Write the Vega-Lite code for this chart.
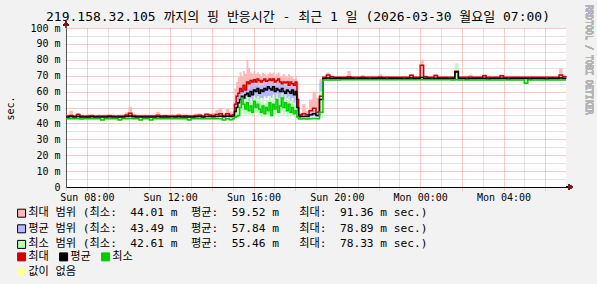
{
"$schema": "https://vega.github.io/schema/vega-lite/v6.json",
"width": 500, "height": 159,
"autosize": {"type": "none"},
"padding": {"left": 66, "top": 28, "right": 31, "bottom": 97},
"background": "#f2f2f2",
"view": {"fill": "#ffffff", "stroke": null},
"title": {"text": "219.158.32.105 까지의 핑 반응시간 - 최근 1 일 (2026-03-30 월요일 07:00)", "font": "DejaVu Sans Mono, Noto Sans CJK KR", "fontSize": 13, "fontWeight": "normal", "color": "#000000", "anchor": "middle", "frame": "group", "dx": -18, "dy": 19, "offset": 0},
"data": {"values": [
{"t":"2026-03-29T07:00","xl":44.2,"xh":45.4,"x":44.6,"al":43.7,"ah":44.7,"a":44.1,"nl":42.6,"nh":43.4,"n":43.0},
{"t":"2026-03-29T07:10","xl":44.3,"xh":48.0,"x":45.0,"al":43.8,"ah":45.0,"a":44.3,"nl":42.6,"nh":43.5,"n":43.0},
{"t":"2026-03-29T07:20","xl":44.1,"xh":45.2,"x":44.5,"al":43.7,"ah":44.6,"a":44.0,"nl":42.5,"nh":43.3,"n":42.9},
{"t":"2026-03-29T07:30","xl":44.6,"xh":46.5,"x":45.6,"al":43.9,"ah":45.0,"a":44.4,"nl":42.6,"nh":43.5,"n":43.0},
{"t":"2026-03-29T07:40","xl":44.2,"xh":45.5,"x":44.7,"al":43.7,"ah":44.7,"a":44.1,"nl":42.5,"nh":43.3,"n":42.8},
{"t":"2026-03-29T07:50","xl":44.1,"xh":45.1,"x":44.5,"al":43.6,"ah":44.6,"a":44.0,"nl":42.6,"nh":43.4,"n":43.0},
{"t":"2026-03-29T08:00","xl":44.2,"xh":45.6,"x":44.6,"al":43.7,"ah":44.7,"a":44.1,"nl":42.6,"nh":43.4,"n":43.0},
{"t":"2026-03-29T08:10","xl":44.3,"xh":45.9,"x":44.8,"al":43.8,"ah":44.8,"a":44.2,"nl":42.6,"nh":43.4,"n":43.0},
{"t":"2026-03-29T08:20","xl":44.1,"xh":45.2,"x":44.5,"al":43.7,"ah":44.6,"a":44.0,"nl":42.6,"nh":43.3,"n":42.9},
{"t":"2026-03-29T08:30","xl":44.2,"xh":45.4,"x":44.6,"al":43.7,"ah":44.7,"a":44.1,"nl":42.6,"nh":43.4,"n":43.0},
{"t":"2026-03-29T08:40","xl":44.2,"xh":45.3,"x":44.6,"al":43.6,"ah":44.6,"a":44.0,"nl":41.7,"nh":43.0,"n":42.1},
{"t":"2026-03-29T08:50","xl":44.2,"xh":45.4,"x":44.6,"al":43.7,"ah":44.7,"a":44.1,"nl":42.6,"nh":43.4,"n":43.0},
{"t":"2026-03-29T09:00","xl":44.3,"xh":45.8,"x":44.8,"al":43.8,"ah":44.8,"a":44.2,"nl":42.6,"nh":43.4,"n":43.0},
{"t":"2026-03-29T09:10","xl":44.2,"xh":45.4,"x":44.6,"al":43.7,"ah":44.7,"a":44.1,"nl":42.6,"nh":43.4,"n":43.0},
{"t":"2026-03-29T09:20","xl":44.1,"xh":45.2,"x":44.5,"al":43.6,"ah":44.6,"a":44.0,"nl":42.6,"nh":43.3,"n":42.9},
{"t":"2026-03-29T09:30","xl":44.2,"xh":45.4,"x":44.6,"al":43.7,"ah":44.6,"a":44.0,"nl":41.8,"nh":43.0,"n":42.2},
{"t":"2026-03-29T09:40","xl":44.2,"xh":45.4,"x":44.6,"al":43.7,"ah":44.7,"a":44.1,"nl":42.6,"nh":43.4,"n":43.0},
{"t":"2026-03-29T09:50","xl":44.4,"xh":47.0,"x":45.3,"al":43.8,"ah":45.0,"a":44.3,"nl":42.6,"nh":43.4,"n":43.0},
{"t":"2026-03-29T10:00","xl":44.8,"xh":50.5,"x":46.4,"al":44.0,"ah":45.5,"a":44.6,"nl":42.7,"nh":43.6,"n":43.1},
{"t":"2026-03-29T10:10","xl":44.3,"xh":45.8,"x":44.9,"al":43.8,"ah":44.8,"a":44.2,"nl":42.6,"nh":43.4,"n":43.0},
{"t":"2026-03-29T10:20","xl":44.2,"xh":45.4,"x":44.6,"al":43.7,"ah":44.7,"a":44.1,"nl":42.6,"nh":43.4,"n":43.0},
{"t":"2026-03-29T10:30","xl":44.2,"xh":45.3,"x":44.6,"al":43.6,"ah":44.6,"a":44.0,"nl":41.8,"nh":43.0,"n":42.2},
{"t":"2026-03-29T10:40","xl":44.2,"xh":45.4,"x":44.6,"al":43.7,"ah":44.7,"a":44.1,"nl":42.6,"nh":43.4,"n":43.0},
{"t":"2026-03-29T10:50","xl":44.3,"xh":45.5,"x":44.7,"al":43.7,"ah":44.7,"a":44.1,"nl":42.6,"nh":43.4,"n":43.0},
{"t":"2026-03-29T11:00","xl":44.2,"xh":45.4,"x":44.6,"al":43.7,"ah":44.6,"a":44.0,"nl":41.7,"nh":43.0,"n":42.1},
{"t":"2026-03-29T11:10","xl":44.2,"xh":45.4,"x":44.6,"al":43.7,"ah":44.7,"a":44.1,"nl":42.6,"nh":43.4,"n":43.0},
{"t":"2026-03-29T11:20","xl":44.4,"xh":47.4,"x":45.2,"al":43.8,"ah":44.9,"a":44.2,"nl":42.6,"nh":43.4,"n":43.0},
{"t":"2026-03-29T11:30","xl":44.2,"xh":45.4,"x":44.6,"al":43.7,"ah":44.7,"a":44.1,"nl":42.6,"nh":43.4,"n":43.0},
{"t":"2026-03-29T11:40","xl":44.3,"xh":45.6,"x":44.8,"al":43.7,"ah":44.7,"a":44.1,"nl":42.6,"nh":43.4,"n":43.0},
{"t":"2026-03-29T11:50","xl":44.2,"xh":45.4,"x":44.6,"al":43.7,"ah":44.7,"a":44.1,"nl":42.6,"nh":43.4,"n":43.0},
{"t":"2026-03-29T12:00","xl":44.3,"xh":45.9,"x":44.7,"al":43.8,"ah":44.8,"a":44.2,"nl":42.6,"nh":43.4,"n":43.0},
{"t":"2026-03-29T12:10","xl":44.2,"xh":45.4,"x":44.6,"al":43.7,"ah":44.7,"a":44.1,"nl":42.6,"nh":43.4,"n":43.0},
{"t":"2026-03-29T12:20","xl":44.3,"xh":46.2,"x":44.9,"al":43.8,"ah":44.8,"a":44.2,"nl":42.6,"nh":43.4,"n":43.0},
{"t":"2026-03-29T12:30","xl":44.2,"xh":45.4,"x":44.6,"al":43.7,"ah":44.7,"a":44.1,"nl":42.6,"nh":43.4,"n":43.0},
{"t":"2026-03-29T12:40","xl":44.3,"xh":45.7,"x":44.8,"al":43.7,"ah":44.7,"a":44.1,"nl":42.6,"nh":43.4,"n":43.0},
{"t":"2026-03-29T12:50","xl":44.2,"xh":45.4,"x":44.6,"al":43.7,"ah":44.6,"a":44.0,"nl":41.8,"nh":43.0,"n":42.2},
{"t":"2026-03-29T13:00","xl":44.2,"xh":45.4,"x":44.6,"al":43.7,"ah":44.7,"a":44.1,"nl":42.6,"nh":43.4,"n":43.0},
{"t":"2026-03-29T13:10","xl":44.3,"xh":46.0,"x":44.9,"al":43.8,"ah":44.8,"a":44.2,"nl":42.6,"nh":43.4,"n":43.0},
{"t":"2026-03-29T13:20","xl":44.4,"xh":46.4,"x":45.1,"al":43.8,"ah":44.9,"a":44.3,"nl":42.6,"nh":43.4,"n":43.0},
{"t":"2026-03-29T13:30","xl":44.2,"xh":45.5,"x":44.7,"al":43.7,"ah":44.7,"a":44.1,"nl":42.6,"nh":43.4,"n":43.0},
{"t":"2026-03-29T13:40","xl":44.5,"xh":46.3,"x":45.8,"al":43.9,"ah":45.0,"a":44.4,"nl":42.6,"nh":43.4,"n":43.0},
{"t":"2026-03-29T13:50","xl":44.4,"xh":46.3,"x":45.3,"al":43.8,"ah":44.9,"a":44.3,"nl":42.6,"nh":43.4,"n":43.0},
{"t":"2026-03-29T14:00","xl":44.3,"xh":46.5,"x":44.9,"al":43.8,"ah":44.8,"a":44.2,"nl":42.6,"nh":43.4,"n":43.0},
{"t":"2026-03-29T14:10","xl":44.5,"xh":48.5,"x":45.6,"al":43.9,"ah":45.0,"a":44.4,"nl":42.6,"nh":43.4,"n":43.0},
{"t":"2026-03-29T14:20","xl":44.6,"xh":49.6,"x":46.0,"al":44.0,"ah":45.2,"a":44.5,"nl":42.6,"nh":43.5,"n":43.0},
{"t":"2026-03-29T14:30","xl":44.3,"xh":46.0,"x":45.0,"al":43.8,"ah":44.8,"a":44.2,"nl":41.8,"nh":43.0,"n":42.2},
{"t":"2026-03-29T14:40","xl":44.6,"xh":49.0,"x":46.0,"al":44.0,"ah":45.2,"a":44.5,"nl":42.6,"nh":43.5,"n":43.0},
{"t":"2026-03-29T14:50","xl":44.4,"xh":47.5,"x":45.2,"al":43.8,"ah":44.9,"a":44.3,"nl":41.9,"nh":43.2,"n":42.3},
{"t":"2026-03-29T15:00","xl":44.5,"xh":47.0,"x":45.5,"al":43.9,"ah":45.0,"a":44.3,"nl":42.6,"nh":43.5,"n":43.0},
{"t":"2026-03-29T15:05","xl":46,"xh":62,"x":52,"al":45,"ah":52,"a":47.5,"nl":43,"nh":46,"n":44},
{"t":"2026-03-29T15:10","xl":50,"xh":66,"x":57,"al":47,"ah":56,"a":50,"nl":43,"nh":50,"n":44.5},
{"t":"2026-03-29T15:15","xl":52,"xh":69,"x":59,"al":48,"ah":58,"a":53,"nl":43.5,"nh":52,"n":45},
{"t":"2026-03-29T15:20","xl":55,"xh":72,"x":62,"al":50,"ah":60,"a":55,"nl":45,"nh":55,"n":50},
{"t":"2026-03-29T15:25","xl":54,"xh":70,"x":60,"al":52,"ah":61,"a":57,"nl":48,"nh":58,"n":56},
{"t":"2026-03-29T15:30","xl":57,"xh":73,"x":64,"al":51,"ah":62,"a":56,"nl":46,"nh":57,"n":52},
{"t":"2026-03-29T15:35","xl":56,"xh":71,"x":61,"al":53,"ah":62,"a":58,"nl":45,"nh":55,"n":49},
{"t":"2026-03-29T15:40","xl":58,"xh":80,"x":66,"al":54,"ah":64,"a":59,"nl":47,"nh":58,"n":53},
{"t":"2026-03-29T15:45","xl":58,"xh":75,"x":65,"al":53,"ah":62,"a":57,"nl":45,"nh":54,"n":48},
{"t":"2026-03-29T15:50","xl":60,"xh":72,"x":67,"al":55,"ah":64,"a":60,"nl":46,"nh":56,"n":51},
{"t":"2026-03-29T15:55","xl":59,"xh":71,"x":66,"al":54,"ah":63,"a":58,"nl":44,"nh":53,"n":47},
{"t":"2026-03-29T16:00","xl":61,"xh":73,"x":67.5,"al":56,"ah":65,"a":61,"nl":47,"nh":58,"n":54},
{"t":"2026-03-29T16:05","xl":60,"xh":71,"x":66,"al":55,"ah":64,"a":60,"nl":46,"nh":56,"n":50},
{"t":"2026-03-29T16:10","xl":61,"xh":72,"x":68,"al":57,"ah":65,"a":62,"nl":47,"nh":57,"n":52},
{"t":"2026-03-29T16:15","xl":60,"xh":71,"x":67,"al":55,"ah":63,"a":59,"nl":45,"nh":55,"n":49},
{"t":"2026-03-29T16:20","xl":60,"xh":70,"x":66,"al":56,"ah":64,"a":61,"nl":44,"nh":53,"n":47},
{"t":"2026-03-29T16:25","xl":61,"xh":72,"x":67,"al":55,"ah":64,"a":60,"nl":46,"nh":56,"n":51},
{"t":"2026-03-29T16:30","xl":61,"xh":71,"x":68,"al":57,"ah":65,"a":62,"nl":44,"nh":52,"n":46},
{"t":"2026-03-29T16:35","xl":60,"xh":70,"x":66.5,"al":56,"ah":65,"a":61,"nl":45,"nh":55,"n":50},
{"t":"2026-03-29T16:40","xl":61,"xh":71,"x":67,"al":57,"ah":66,"a":63,"nl":44,"nh":54,"n":48},
{"t":"2026-03-29T16:45","xl":62,"xh":72,"x":68,"al":57,"ah":65,"a":62,"nl":47,"nh":57,"n":53},
{"t":"2026-03-29T16:50","xl":61,"xh":71,"x":67,"al":56,"ah":64,"a":61,"nl":44,"nh":51,"n":45},
{"t":"2026-03-29T16:55","xl":61,"xh":72,"x":68,"al":58,"ah":66,"a":63,"nl":46,"nh":57,"n":52},
{"t":"2026-03-29T17:00","xl":60,"xh":70,"x":66,"al":55,"ah":64,"a":60,"nl":45,"nh":55,"n":49},
{"t":"2026-03-29T17:05","xl":61,"xh":71,"x":67,"al":57,"ah":65,"a":62,"nl":48,"nh":59,"n":55},
{"t":"2026-03-29T17:10","xl":62,"xh":72,"x":68,"al":56,"ah":65,"a":61,"nl":44,"nh":53,"n":47},
{"t":"2026-03-29T17:15","xl":60,"xh":70,"x":66,"al":55,"ah":64,"a":60,"nl":46,"nh":56,"n":51},
{"t":"2026-03-29T17:20","xl":59,"xh":70,"x":65,"al":56,"ah":65,"a":62,"nl":48,"nh":59,"n":56},
{"t":"2026-03-29T17:25","xl":60,"xh":71,"x":66,"al":55,"ah":64,"a":60,"nl":45,"nh":55,"n":50},
{"t":"2026-03-29T17:30","xl":59,"xh":70,"x":65.5,"al":54,"ah":63,"a":59,"nl":47,"nh":58,"n":53},
{"t":"2026-03-29T17:35","xl":60,"xh":69,"x":66,"al":56,"ah":64,"a":61,"nl":44,"nh":54,"n":48},
{"t":"2026-03-29T17:40","xl":58,"xh":71,"x":64,"al":55,"ah":63,"a":60,"nl":46,"nh":57,"n":52},
{"t":"2026-03-29T17:45","xl":59,"xh":70,"x":66,"al":54,"ah":63,"a":59,"nl":44,"nh":53,"n":47},
{"t":"2026-03-29T17:50","xl":59,"xh":69,"x":65,"al":56,"ah":64,"a":61,"nl":45,"nh":55,"n":50},
{"t":"2026-03-29T17:55","xl":58,"xh":68,"x":64,"al":53,"ah":62,"a":58,"nl":44,"nh":52,"n":46},
{"t":"2026-03-29T18:00","xl":59,"xh":70,"x":66,"al":55,"ah":63,"a":60,"nl":44,"nh":53,"n":48},
{"t":"2026-03-29T18:05","xl":47,"xh":66,"x":55,"al":45,"ah":58,"a":50,"nl":43,"nh":47,"n":44},
{"t":"2026-03-29T18:10","xl":44.5,"xh":47,"x":45.5,"al":43.8,"ah":45,"a":44.2,"nl":42.5,"nh":43.3,"n":42.8},
{"t":"2026-03-29T18:15","xl":44.5,"xh":46.5,"x":45.3,"al":43.8,"ah":45,"a":44.3,"nl":42.5,"nh":43.3,"n":42.8},
{"t":"2026-03-29T18:20","xl":44.6,"xh":52,"x":46,"al":43.9,"ah":45.5,"a":44.4,"nl":42.5,"nh":43.4,"n":42.9},
{"t":"2026-03-29T18:30","xl":44.5,"xh":48,"x":45.5,"al":43.8,"ah":45.2,"a":44.3,"nl":42.5,"nh":43.3,"n":42.8},
{"t":"2026-03-29T18:40","xl":45,"xh":55,"x":48,"al":44.2,"ah":47,"a":45.5,"nl":42.6,"nh":43.6,"n":43.0},
{"t":"2026-03-29T18:50","xl":45.5,"xh":60,"x":49.5,"al":44.5,"ah":48,"a":46,"nl":42.6,"nh":43.8,"n":43.1},
{"t":"2026-03-29T19:00","xl":45,"xh":56,"x":47,"al":44,"ah":46.5,"a":45,"nl":42.6,"nh":43.5,"n":43.0},
{"t":"2026-03-29T19:10","xl":47,"xh":68,"x":57,"al":46,"ah":66,"a":55,"nl":43.5,"nh":60,"n":47},
{"t":"2026-03-29T19:20","xl":68.6,"xh":70.2,"x":69.1,"al":67.9,"ah":69.0,"a":68.3,"nl":66.9,"nh":67.7,"n":67.3},
{"t":"2026-03-29T19:30","xl":68.8,"xh":72.0,"x":70.4,"al":68.0,"ah":69.5,"a":68.6,"nl":67.0,"nh":67.7,"n":67.3},
{"t":"2026-03-29T19:40","xl":68.6,"xh":70.2,"x":69.4,"al":67.9,"ah":68.9,"a":68.3,"nl":66.9,"nh":67.7,"n":67.3},
{"t":"2026-03-29T19:50","xl":68.6,"xh":69.6,"x":69.0,"al":67.9,"ah":68.8,"a":68.2,"nl":67.0,"nh":67.6,"n":67.3},
{"t":"2026-03-29T20:00","xl":68.6,"xh":69.6,"x":69.0,"al":67.9,"ah":68.8,"a":68.4,"nl":67.0,"nh":67.6,"n":67.3},
{"t":"2026-03-29T20:10","xl":68.6,"xh":69.6,"x":69.0,"al":67.9,"ah":68.8,"a":68.2,"nl":67.1,"nh":67.8,"n":67.5},
{"t":"2026-03-29T20:20","xl":68.6,"xh":69.7,"x":69.1,"al":67.9,"ah":68.8,"a":68.3,"nl":67.1,"nh":67.8,"n":67.5},
{"t":"2026-03-29T20:30","xl":68.7,"xh":73.0,"x":69.3,"al":67.9,"ah":69.0,"a":68.4,"nl":67.1,"nh":67.8,"n":67.5},
{"t":"2026-03-29T20:40","xl":68.6,"xh":69.6,"x":69.0,"al":67.9,"ah":68.8,"a":68.2,"nl":67.1,"nh":67.8,"n":67.5},
{"t":"2026-03-29T20:50","xl":68.6,"xh":69.6,"x":69.0,"al":67.9,"ah":68.8,"a":68.0,"nl":67.1,"nh":67.8,"n":67.5},
{"t":"2026-03-29T21:00","xl":68.6,"xh":69.7,"x":69.1,"al":67.9,"ah":68.8,"a":68.3,"nl":67.1,"nh":67.8,"n":67.5},
{"t":"2026-03-29T21:10","xl":68.7,"xh":70.5,"x":69.2,"al":67.9,"ah":68.9,"a":68.4,"nl":67.1,"nh":67.8,"n":67.5},
{"t":"2026-03-29T21:20","xl":68.6,"xh":69.6,"x":69.0,"al":67.9,"ah":68.8,"a":68.2,"nl":67.1,"nh":67.8,"n":67.5},
{"t":"2026-03-29T21:30","xl":68.6,"xh":69.6,"x":69.0,"al":67.9,"ah":68.8,"a":68.0,"nl":67.1,"nh":67.8,"n":67.5},
{"t":"2026-03-29T21:40","xl":68.6,"xh":69.7,"x":69.1,"al":67.9,"ah":68.8,"a":68.3,"nl":67.1,"nh":67.8,"n":67.5},
{"t":"2026-03-29T21:50","xl":68.6,"xh":69.6,"x":69.0,"al":67.9,"ah":68.8,"a":68.2,"nl":67.1,"nh":67.8,"n":67.5},
{"t":"2026-03-29T22:00","xl":68.7,"xh":71.0,"x":69.2,"al":67.9,"ah":68.9,"a":68.4,"nl":67.1,"nh":67.8,"n":67.5},
{"t":"2026-03-29T22:10","xl":68.6,"xh":69.6,"x":69.0,"al":67.9,"ah":68.8,"a":68.2,"nl":67.1,"nh":67.8,"n":67.5},
{"t":"2026-03-29T22:20","xl":68.6,"xh":69.6,"x":69.0,"al":67.9,"ah":68.8,"a":68.0,"nl":67.1,"nh":67.8,"n":67.5},
{"t":"2026-03-29T22:30","xl":68.6,"xh":69.7,"x":69.1,"al":67.9,"ah":68.8,"a":68.3,"nl":67.1,"nh":67.8,"n":67.5},
{"t":"2026-03-29T22:40","xl":68.6,"xh":69.6,"x":69.0,"al":67.9,"ah":68.8,"a":68.2,"nl":67.1,"nh":67.8,"n":67.5},
{"t":"2026-03-29T22:50","xl":68.6,"xh":69.6,"x":69.0,"al":67.9,"ah":68.8,"a":68.2,"nl":67.1,"nh":67.8,"n":67.5},
{"t":"2026-03-29T23:00","xl":68.6,"xh":69.7,"x":69.1,"al":67.9,"ah":68.8,"a":68.3,"nl":67.1,"nh":67.8,"n":67.5},
{"t":"2026-03-29T23:10","xl":68.6,"xh":69.6,"x":69.0,"al":67.9,"ah":68.8,"a":68.0,"nl":67.1,"nh":67.8,"n":67.5},
{"t":"2026-03-29T23:20","xl":68.6,"xh":69.6,"x":69.0,"al":67.9,"ah":68.8,"a":68.2,"nl":67.1,"nh":67.8,"n":67.5},
{"t":"2026-03-29T23:30","xl":68.8,"xh":71.0,"x":70.3,"al":68.0,"ah":69.2,"a":68.5,"nl":67.1,"nh":67.8,"n":67.5},
{"t":"2026-03-29T23:40","xl":68.6,"xh":69.6,"x":69.0,"al":67.9,"ah":68.8,"a":68.2,"nl":67.1,"nh":67.8,"n":67.5},
{"t":"2026-03-29T23:50","xl":68.6,"xh":69.7,"x":69.1,"al":67.9,"ah":68.8,"a":68.3,"nl":67.1,"nh":67.8,"n":67.5},
{"t":"2026-03-30T00:00","xl":69.0,"xh":80.0,"x":76.5,"al":68.2,"ah":70.0,"a":68.8,"nl":67.1,"nh":67.9,"n":67.5},
{"t":"2026-03-30T00:10","xl":68.7,"xh":70.2,"x":69.3,"al":67.9,"ah":68.9,"a":68.3,"nl":67.1,"nh":67.8,"n":67.5},
{"t":"2026-03-30T00:20","xl":68.6,"xh":69.6,"x":69.0,"al":67.9,"ah":68.8,"a":68.2,"nl":67.1,"nh":67.8,"n":67.5},
{"t":"2026-03-30T00:30","xl":68.6,"xh":69.6,"x":69.0,"al":67.9,"ah":68.8,"a":68.0,"nl":67.1,"nh":67.8,"n":67.5},
{"t":"2026-03-30T00:40","xl":68.8,"xh":71.0,"x":70.2,"al":68.0,"ah":69.0,"a":68.4,"nl":67.1,"nh":67.8,"n":67.5},
{"t":"2026-03-30T00:50","xl":68.6,"xh":69.6,"x":69.0,"al":67.9,"ah":68.8,"a":68.2,"nl":67.1,"nh":67.8,"n":67.5},
{"t":"2026-03-30T01:00","xl":68.6,"xh":69.7,"x":69.1,"al":67.9,"ah":68.8,"a":68.3,"nl":67.1,"nh":67.8,"n":67.5},
{"t":"2026-03-30T01:10","xl":68.6,"xh":69.6,"x":69.0,"al":67.9,"ah":68.8,"a":68.2,"nl":67.1,"nh":67.8,"n":67.5},
{"t":"2026-03-30T01:20","xl":68.6,"xh":69.6,"x":69.0,"al":67.9,"ah":68.8,"a":68.0,"nl":67.1,"nh":67.8,"n":67.5},
{"t":"2026-03-30T01:30","xl":68.6,"xh":69.6,"x":69.0,"al":67.9,"ah":68.8,"a":68.2,"nl":67.0,"nh":67.6,"n":67.3},
{"t":"2026-03-30T01:40","xl":69.0,"xh":74.0,"x":72.8,"al":68.2,"ah":77.5,"a":72.3,"nl":67.0,"nh":77.5,"n":67.5},
{"t":"2026-03-30T01:50","xl":68.6,"xh":69.6,"x":69.0,"al":67.9,"ah":68.8,"a":68.2,"nl":67.0,"nh":67.6,"n":67.3},
{"t":"2026-03-30T02:00","xl":68.6,"xh":69.7,"x":69.1,"al":67.9,"ah":68.8,"a":68.3,"nl":67.0,"nh":67.6,"n":67.3},
{"t":"2026-03-30T02:10","xl":68.6,"xh":69.6,"x":69.0,"al":67.9,"ah":68.8,"a":68.0,"nl":67.0,"nh":67.6,"n":67.3},
{"t":"2026-03-30T02:20","xl":68.7,"xh":70.8,"x":69.2,"al":67.9,"ah":68.9,"a":68.3,"nl":67.0,"nh":67.6,"n":67.3},
{"t":"2026-03-30T02:30","xl":68.6,"xh":69.6,"x":69.0,"al":67.9,"ah":68.8,"a":68.2,"nl":67.0,"nh":67.6,"n":67.3},
{"t":"2026-03-30T02:40","xl":68.6,"xh":69.6,"x":69.0,"al":67.9,"ah":68.8,"a":68.2,"nl":67.0,"nh":67.6,"n":67.3},
{"t":"2026-03-30T02:50","xl":68.6,"xh":69.7,"x":69.1,"al":67.9,"ah":68.8,"a":68.3,"nl":67.0,"nh":67.6,"n":67.3},
{"t":"2026-03-30T03:00","xl":68.8,"xh":71.0,"x":70.0,"al":68.0,"ah":69.0,"a":68.4,"nl":67.0,"nh":67.6,"n":67.3},
{"t":"2026-03-30T03:10","xl":68.6,"xh":69.6,"x":69.0,"al":67.9,"ah":68.8,"a":68.0,"nl":67.0,"nh":67.6,"n":67.3},
{"t":"2026-03-30T03:20","xl":68.6,"xh":69.6,"x":69.0,"al":67.9,"ah":68.8,"a":68.2,"nl":67.0,"nh":67.6,"n":67.3},
{"t":"2026-03-30T03:30","xl":68.6,"xh":69.7,"x":69.1,"al":67.9,"ah":68.8,"a":68.3,"nl":67.0,"nh":67.6,"n":67.3},
{"t":"2026-03-30T03:40","xl":68.6,"xh":69.6,"x":69.0,"al":67.9,"ah":68.8,"a":68.2,"nl":67.0,"nh":67.6,"n":67.3},
{"t":"2026-03-30T03:50","xl":68.8,"xh":70.8,"x":70.0,"al":68.0,"ah":69.0,"a":68.4,"nl":67.0,"nh":67.6,"n":67.3},
{"t":"2026-03-30T04:00","xl":68.6,"xh":69.6,"x":69.0,"al":67.9,"ah":68.8,"a":68.2,"nl":67.0,"nh":67.6,"n":67.3},
{"t":"2026-03-30T04:10","xl":68.6,"xh":69.6,"x":69.0,"al":67.9,"ah":68.8,"a":68.0,"nl":67.0,"nh":67.6,"n":67.3},
{"t":"2026-03-30T04:20","xl":68.6,"xh":69.7,"x":69.1,"al":67.9,"ah":68.8,"a":68.3,"nl":67.0,"nh":67.6,"n":67.3},
{"t":"2026-03-30T04:30","xl":68.6,"xh":69.6,"x":69.0,"al":67.9,"ah":68.8,"a":68.2,"nl":67.0,"nh":67.6,"n":67.3},
{"t":"2026-03-30T04:40","xl":68.6,"xh":69.6,"x":69.0,"al":67.9,"ah":68.8,"a":68.2,"nl":67.0,"nh":67.6,"n":67.3},
{"t":"2026-03-30T04:50","xl":68.6,"xh":69.7,"x":69.1,"al":67.9,"ah":68.8,"a":68.3,"nl":67.0,"nh":67.6,"n":67.3},
{"t":"2026-03-30T05:00","xl":68.6,"xh":69.6,"x":69.0,"al":67.9,"ah":68.8,"a":68.2,"nl":65.0,"nh":67.6,"n":65.3},
{"t":"2026-03-30T05:10","xl":68.6,"xh":69.6,"x":69.0,"al":67.9,"ah":68.8,"a":68.0,"nl":67.0,"nh":67.6,"n":67.3},
{"t":"2026-03-30T05:20","xl":68.6,"xh":69.7,"x":69.1,"al":67.9,"ah":68.8,"a":68.3,"nl":67.0,"nh":67.6,"n":67.3},
{"t":"2026-03-30T05:30","xl":68.6,"xh":69.6,"x":69.0,"al":67.9,"ah":68.8,"a":68.2,"nl":67.0,"nh":67.6,"n":67.3},
{"t":"2026-03-30T05:40","xl":68.6,"xh":69.6,"x":69.0,"al":67.9,"ah":68.8,"a":68.2,"nl":67.0,"nh":67.6,"n":67.3},
{"t":"2026-03-30T05:50","xl":68.6,"xh":69.7,"x":69.1,"al":67.9,"ah":68.8,"a":68.3,"nl":67.0,"nh":67.6,"n":67.3},
{"t":"2026-03-30T06:00","xl":68.6,"xh":69.6,"x":69.0,"al":67.9,"ah":68.8,"a":68.0,"nl":67.0,"nh":67.6,"n":67.3},
{"t":"2026-03-30T06:10","xl":68.6,"xh":69.6,"x":69.0,"al":67.9,"ah":68.8,"a":68.2,"nl":67.0,"nh":67.6,"n":67.3},
{"t":"2026-03-30T06:20","xl":68.6,"xh":69.7,"x":69.1,"al":67.9,"ah":68.8,"a":68.3,"nl":67.0,"nh":67.6,"n":67.3},
{"t":"2026-03-30T06:30","xl":68.6,"xh":69.6,"x":69.0,"al":67.9,"ah":68.8,"a":68.2,"nl":67.0,"nh":67.6,"n":67.3},
{"t":"2026-03-30T06:40","xl":68.9,"xh":74.5,"x":70.5,"al":68.1,"ah":69.3,"a":68.6,"nl":67.0,"nh":67.6,"n":67.3},
{"t":"2026-03-30T06:50","xl":68.7,"xh":70.4,"x":69.4,"al":67.9,"ah":68.9,"a":68.3,"nl":67.0,"nh":67.6,"n":67.3},
{"t":"2026-03-30T07:00","xl":68.6,"xh":69.6,"x":69.0,"al":67.9,"ah":68.8,"a":68.2,"nl":67.0,"nh":67.6,"n":67.3}
]},
"layer": [
{"mark": {"type": "area", "interpolate": "step-after"},
 "encoding": {
  "x": {"field": "t", "type": "temporal",
        "scale": {"domain": [{"year": 2026, "month": 3, "date": 29, "hours": 7}, {"year": 2026, "month": 3, "date": 30, "hours": 7}], "nice": false},
        "axis": {"title": null, "tickCount": 100,
                 "values": [{"year":2026,"month":3,"date":29,"hours":7},{"year":2026,"month":3,"date":29,"hours":8},{"year":2026,"month":3,"date":29,"hours":9},{"year":2026,"month":3,"date":29,"hours":10},{"year":2026,"month":3,"date":29,"hours":11},{"year":2026,"month":3,"date":29,"hours":12},{"year":2026,"month":3,"date":29,"hours":13},{"year":2026,"month":3,"date":29,"hours":14},{"year":2026,"month":3,"date":29,"hours":15},{"year":2026,"month":3,"date":29,"hours":16},{"year":2026,"month":3,"date":29,"hours":17},{"year":2026,"month":3,"date":29,"hours":18},{"year":2026,"month":3,"date":29,"hours":19},{"year":2026,"month":3,"date":29,"hours":20},{"year":2026,"month":3,"date":29,"hours":21},{"year":2026,"month":3,"date":29,"hours":22},{"year":2026,"month":3,"date":29,"hours":23},{"year":2026,"month":3,"date":30,"hours":0},{"year":2026,"month":3,"date":30,"hours":1},{"year":2026,"month":3,"date":30,"hours":2},{"year":2026,"month":3,"date":30,"hours":3},{"year":2026,"month":3,"date":30,"hours":4},{"year":2026,"month":3,"date":30,"hours":5},{"year":2026,"month":3,"date":30,"hours":6}],
                 "labelExpr": "hours(datum.value) % 4 == 0 ? timeFormat(datum.value, '%a %H:%M') : ''",
                 "labelFont": "DejaVu Sans Mono", "labelFontSize": 10, "labelColor": "#000000", "labelPadding": 2, "labelOverlap": false, "labelFlush": false,
                 "grid": true, "gridDash": [1, 1],
                 "gridColor": {"condition": {"test": "hours(datum.value) % 2 == 0", "value": "#ff8c8c"}, "value": "#c4c4c4"},
                 "ticks": true, "tickSize": 3, "tickDash": [1, 1],
                 "tickColor": {"condition": {"test": "hours(datum.value) % 2 == 0", "value": "#ff8c8c"}, "value": "#c4c4c4"},
                 "domain": true, "domainColor": "#000000"}},
  "y": {"field": "xl", "type": "quantitative", "scale": {"domain": [0, 100], "nice": false},
        "axis": {"title": "sec.", "titleX": -51, "titleY": 80, "titleFont": "DejaVu Sans Mono", "titleFontSize": 10, "titleFontWeight": "normal", "titleColor": "#000000",
                 "tickCount": 100, "values": [0, 5, 10, 15, 20, 25, 30, 35, 40, 45, 50, 55, 60, 65, 70, 75, 80, 85, 90, 95, 100],
                 "labelExpr": "datum.value % 10 != 0 ? '' : datum.value == 0 ? '0\u00a0\u00a0' : datum.value + ' m'",
                 "labelFont": "DejaVu Sans Mono", "labelFontSize": 10, "labelColor": "#000000", "labelPadding": 4, "labelOverlap": false, "labelFlush": false,
                 "grid": true, "gridDash": [1, 1],
                 "gridColor": {"condition": {"test": "datum.value % 10 == 0", "value": "#ff8c8c"}, "value": "#c4c4c4"},
                 "ticks": true, "tickSize": 2, "tickDash": [1, 1],
                 "tickColor": {"condition": {"test": "datum.value % 10 == 0", "value": "#ff8c8c"}, "value": "#c4c4c4"},
                 "domain": true, "domainColor": "#555555"}},
  "y2": {"field": "xh"},
  "fill": {"datum": "최대 범위", "type": "nominal",
           "scale": {"domain": ["최대 범위", "평균 범위", "최소 범위"], "range": ["#ffb8b8", "#b8b8ff", "#b8ffb8"]},
           "legend": {"orient": "none", "legendX": -50, "legendY": 179.6, "direction": "vertical", "title": null, "padding": 0,
                      "symbolType": "square", "symbolSize": 64, "symbolStrokeColor": "#000000", "symbolStrokeWidth": 1, "labelFont": "DejaVu Sans Mono, Noto Sans CJK KR", "labelFontSize": 11.2, "labelColor": "#000000", "labelOffset": 1, "labelLimit": 2000, "rowPadding": 2.6,
                      "labelExpr": "datum.label == '최대 범위' ? '최대 범위\u00a0(최소:\u00a0\u00a044.01 m\u00a0\u00a0평균:\u00a0\u00a059.52 m\u00a0\u00a0\u00a0최대:\u00a0\u00a091.36 m sec.)' : datum.label == '평균 범위' ? '평균 범위\u00a0(최소:\u00a0\u00a043.49 m\u00a0\u00a0평균:\u00a0\u00a057.84 m\u00a0\u00a0\u00a0최대:\u00a0\u00a078.89 m sec.)' : '최소 범위\u00a0(최소:\u00a0\u00a042.61 m\u00a0\u00a0평균:\u00a0\u00a055.46 m\u00a0\u00a0\u00a0최대:\u00a0\u00a078.33 m sec.)'"}}
 }},
{"mark": {"type": "area", "interpolate": "step-after"},
 "encoding": {
  "x": {"field": "t", "type": "temporal"},
  "y": {"field": "al", "type": "quantitative"},
  "y2": {"field": "ah"},
  "fill": {"datum": "평균 범위", "type": "nominal"}
 }},
{"mark": {"type": "area", "interpolate": "step-after"},
 "encoding": {
  "x": {"field": "t", "type": "temporal"},
  "y": {"field": "nl", "type": "quantitative"},
  "y2": {"field": "nh"},
  "fill": {"datum": "최소 범위", "type": "nominal"}
 }},
{"mark": {"type": "line", "interpolate": "step-after", "strokeWidth": 1.5},
 "encoding": {
  "x": {"field": "t", "type": "temporal"},
  "y": {"field": "x", "type": "quantitative"},
  "stroke": {"datum": "최대", "type": "nominal",
             "scale": {"domain": ["최대", "평균", "최소"], "range": ["#cc0000", "#000000", "#00cc00"]},
             "legend": {"orient": "none", "legendX": -50, "legendY": 223.1, "direction": "horizontal", "title": null, "padding": 0, "columnPadding": 8,
                        "symbolType": "square", "symbolSize": 64, "labelFont": "DejaVu Sans Mono, Noto Sans CJK KR", "labelFontSize": 11.2, "labelColor": "#000000", "labelOffset": 1,
                        "encode": {"symbols": {"update": {"fill": {"scale": "stroke", "field": "value"}, "stroke": {"value": "#000000"}, "strokeWidth": {"value": 1}}}}}}
 }},
{"mark": {"type": "line", "interpolate": "step-after", "strokeWidth": 1.5},
 "encoding": {
  "x": {"field": "t", "type": "temporal"},
  "y": {"field": "a", "type": "quantitative"},
  "stroke": {"datum": "평균", "type": "nominal"}
 }},
{"mark": {"type": "line", "interpolate": "step-after", "strokeWidth": 1.5},
 "encoding": {
  "x": {"field": "t", "type": "temporal"},
  "y": {"field": "n", "type": "quantitative"},
  "stroke": {"datum": "최소", "type": "nominal"}
 }},
{"mark": {"type": "point", "filled": true, "color": "#ffff99", "fill": "#ffff99", "opacity": 0},
 "encoding": {
  "x": {"datum": {"year": 2026, "month": 3, "date": 29, "hours": 7}, "type": "temporal"},
  "y": {"datum": 0, "type": "quantitative"},
  "shape": {"datum": "값이 없음", "type": "nominal", "scale": {"range": ["square"]},
            "legend": {"orient": "none", "legendX": -50, "legendY": 238.2, "title": null, "padding": 0,
                       "symbolType": "square", "symbolSize": 64, "symbolFillColor": "#ffff99", "symbolStrokeColor": "#000000", "symbolStrokeWidth": 1, "labelFont": "DejaVu Sans Mono, Noto Sans CJK KR", "labelFontSize": 11.2, "labelColor": "#000000", "labelOffset": 1,
                       "encode": {"symbols": {"update": {"fill": {"value": "#ffff99"}, "stroke": {"value": "#000000"}, "strokeWidth": {"value": 1}, "opacity": {"value": 1}}}}}}
 }},
{"mark": {"type": "rule", "color": "#555555"},
 "encoding": {
  "x": {"datum": {"year": 2026, "month": 3, "date": 29, "hours": 7}, "type": "temporal"},
  "y": {"datum": 100, "type": "quantitative"},
  "y2": {"datum": 103}
 }},
{"mark": {"type": "rule", "color": "#000000"},
 "encoding": {
  "x": {"datum": {"year": 2026, "month": 3, "date": 30, "hours": 7}, "type": "temporal"},
  "x2": {"datum": {"year": 2026, "month": 3, "date": 30, "hours": 7, "minutes": 10}},
  "y": {"datum": 0, "type": "quantitative"}
 }},
{"mark": {"type": "point", "shape": "triangle-up", "filled": true, "size": 28, "color": "#7a1a1a", "opacity": 1},
 "encoding": {
  "x": {"datum": {"year": 2026, "month": 3, "date": 29, "hours": 7}, "type": "temporal"},
  "y": {"datum": 102.8, "type": "quantitative"}
 }},
{"mark": {"type": "point", "shape": "triangle-right", "filled": true, "size": 28, "color": "#7a1a1a", "opacity": 1},
 "encoding": {
  "x": {"datum": {"year": 2026, "month": 3, "date": 30, "hours": 7, "minutes": 13}, "type": "temporal"},
  "y": {"datum": 0, "type": "quantitative"}
 }},
{"mark": {"type": "text", "angle": 90, "align": "left", "baseline": "bottom", "font": "DejaVu Sans Mono", "fontSize": 8.3, "color": "#b4b4b4"},
 "encoding": {
  "x": {"datum": {"year": 2026, "month": 3, "date": 30, "hours": 7, "minutes": 52}, "type": "temporal"},
  "y": {"datum": 114.5, "type": "quantitative"},
  "text": {"value": "RRDTOOL / TOBI OETIKER"}
 }}
]
}
